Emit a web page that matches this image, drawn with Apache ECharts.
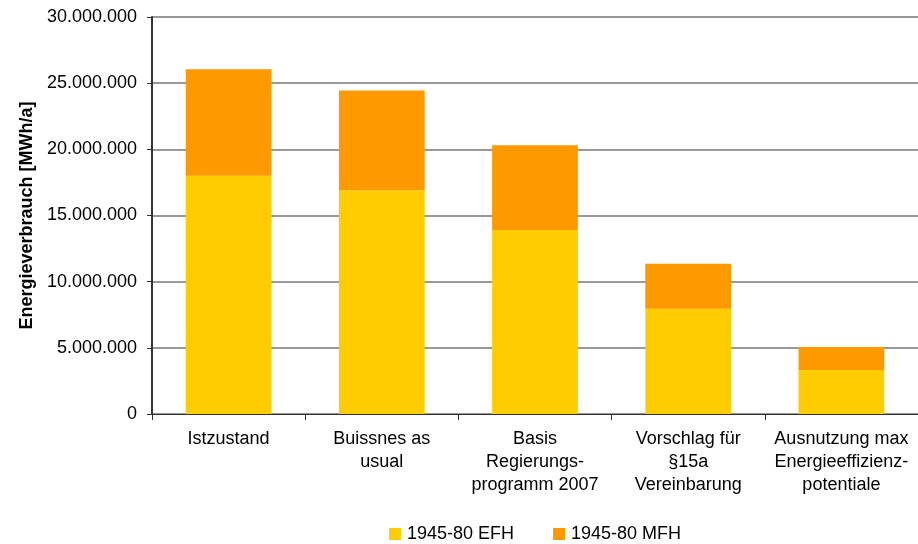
<!DOCTYPE html>
<html>
<head>
<meta charset="utf-8">
<script src="https://cdn.jsdelivr.net/npm/echarts@6/dist/echarts.min.js"></script>
<style>
  html, body { margin: 0; padding: 0; background: #fff; }
  #chart { width: 918px; height: 544px; }
</style>
</head>
<body>
<div id="chart"></div>
<script>
const categories = [
  'Istzustand',
  'Buissnes as\nusual',
  'Basis\nRegierungs-\nprogramm 2007',
  'Vorschlag für\n§15a\nVereinbarung',
  'Ausnutzung max\nEnergieeffizienz-\npotentiale'
]
const efh = [18000000, 16900000, 13900000, 7950000, 3330000]
const mfh = [8050000, 7550000, 6400000, 3400000, 1730000]
const yTicks = { min: 0, max: 30000000, interval: 5000000 }

const fmt = function (v) {
  return String(v).replace(/\B(?=(\d{3})+(?!\d))/g, '.')
}

const chart = echarts.init(document.getElementById('chart'))
const option = {
  animation: false,
  textStyle: { fontFamily: 'Liberation Sans, Arial, sans-serif' },
  color: ['#FFCC00', '#FF9900'],
  grid: { left: 152, right: 0, top: 17, bottom: 130 },
  legend: {
    top: 525,
    left: 389,
    itemWidth: 12,
    itemHeight: 12,
    itemGap: 39,
    icon: 'rect',
    padding: 0,
    textStyle: { fontSize: 18, color: '#000', padding: [0, 0, 0, 1] },
    data: ['1945-80 EFH', '1945-80 MFH']
  },
  xAxis: {
    type: 'category',
    data: categories,
    axisLine: { lineStyle: { color: '#333', width: 1 } },
    axisTick: { show: true, length: 6, lineStyle: { color: '#333' } },
    axisLabel: {
      interval: 0,
      color: '#000',
      fontSize: 18,
      lineHeight: 23,
      margin: 14
    }
  },
  yAxis: {
    type: 'value',
    min: yTicks.min,
    max: yTicks.max,
    interval: yTicks.interval,
    name: 'Energieverbrauch [MWh/a]',
    nameLocation: 'middle',
    nameGap: 115,
    nameTextStyle: { fontSize: 18, fontWeight: 'bold', color: '#000' },
    axisLine: { show: true, lineStyle: { color: '#333', width: 2 } },
    axisTick: { show: true, length: 5, lineStyle: { color: '#333' } },
    axisLabel: { color: '#000', fontSize: 18, margin: 15, formatter: fmt },
    splitLine: { lineStyle: { color: '#777', width: 1.5 } }
  },
  series: [
    {
      name: '1945-80 EFH',
      type: 'bar',
      stack: 'total',
      barWidth: '56%',
      data: efh
    },
    {
      name: '1945-80 MFH',
      type: 'bar',
      stack: 'total',
      barWidth: '56%',
      data: mfh
    }
  ]
}
chart.setOption(option)
</script>
</body>
</html>
